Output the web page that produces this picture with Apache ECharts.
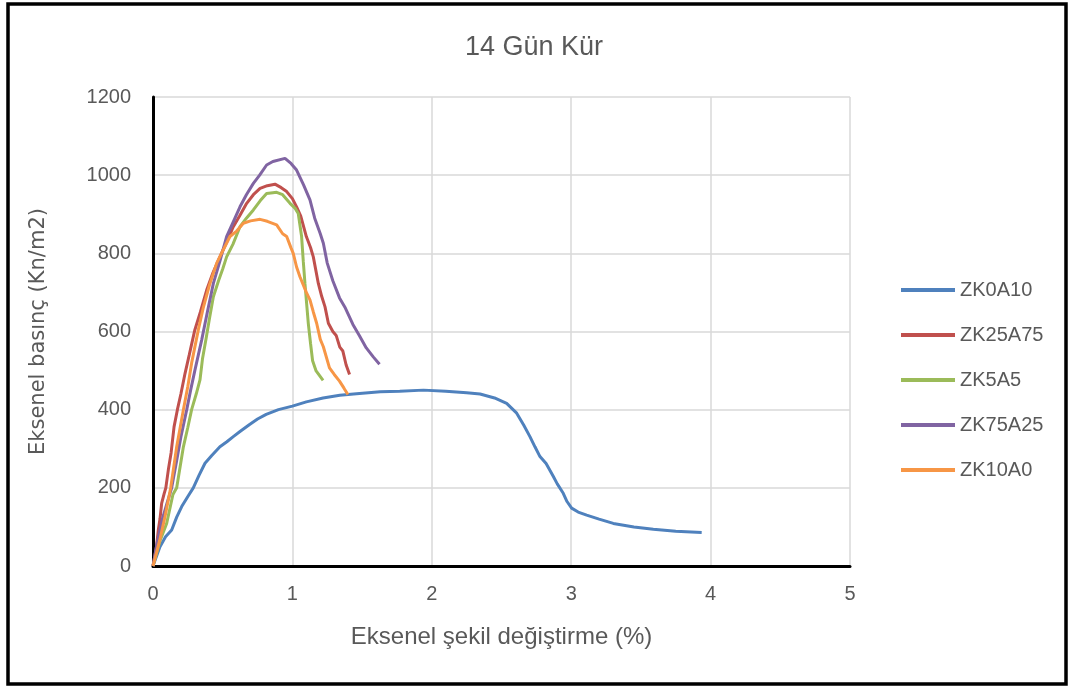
<!DOCTYPE html>
<html>
<head>
<meta charset="utf-8">
<script src="https://cdn.jsdelivr.net/npm/echarts@6/dist/echarts.min.js"></script>
<style>
html,body{margin:0;padding:0;background:#fff;}
#c{width:1068px;height:687px;}
</style>
</head>
<body>
<div id="c"></div>
<script>
const titleText = '14 Gün Kür';
const xAxisName = 'Eksenel şekil değiştirme (%)';
const yAxisName = 'Eksenel basınç (Kn/m2)';
const seriesNames = ['ZK0A10', 'ZK25A75', 'ZK5A5', 'ZK75A25', 'ZK10A0'];

const zk0a10 = [[0,0],[0.02,20],[0.05,49],[0.09,75],[0.134,92],[0.17,125],[0.206,152],[0.25,178],[0.289,200],[0.33,232],[0.373,263],[0.42,282],[0.48,305],[0.53,318],[0.576,331],[0.624,344],[0.693,362],[0.75,376],[0.812,388],[0.9,400],[1.0,409],[1.1,420],[1.22,430],[1.34,437],[1.46,441],[1.63,446],[1.77,447],[1.94,450],[2.1,447],[2.25,443],[2.346,440],[2.45,430],[2.537,416],[2.609,391],[2.66,360],[2.704,331],[2.74,305],[2.776,280],[2.82,262],[2.872,229],[2.9,210],[2.943,186],[2.97,165],[3.003,148],[3.05,138],[3.111,130],[3.2,120],[3.302,109],[3.45,100],[3.589,94],[3.75,89],[3.936,86]];

const zk25a75 = [[0,0],[0.025,49],[0.038,92],[0.05,120],[0.062,160],[0.08,185],[0.092,200],[0.11,246],[0.13,290],[0.151,356],[0.175,400],[0.2,440],[0.23,493],[0.26,540],[0.3,604],[0.34,650],[0.385,706],[0.43,750],[0.48,791],[0.53,830],[0.576,868],[0.62,895],[0.672,928],[0.72,950],[0.768,966],[0.82,973],[0.875,977],[0.92,968],[0.959,958],[1.0,940],[1.03,919],[1.06,895],[1.1,843],[1.13,815],[1.15,791],[1.186,723],[1.21,690],[1.234,663],[1.258,621],[1.29,600],[1.314,590],[1.34,560],[1.362,550],[1.385,515],[1.41,490]];

const zk5a5 = [[0,0],[0.05,64],[0.098,109],[0.143,183],[0.17,200],[0.218,305],[0.25,355],[0.277,400],[0.31,440],[0.337,476],[0.355,530],[0.38,580],[0.406,635],[0.433,689],[0.47,730],[0.5,760],[0.528,791],[0.573,823],[0.624,868],[0.67,890],[0.72,911],[0.77,935],[0.815,953],[0.86,955],[0.887,956],[0.93,950],[0.983,928],[1.02,915],[1.042,902],[1.066,843],[1.078,780],[1.09,723],[1.1,680],[1.114,621],[1.13,570],[1.145,525],[1.17,499],[1.22,475]];

const zk75a25 = [[0,0],[0.03,60],[0.067,120],[0.1,160],[0.134,200],[0.17,270],[0.2,330],[0.242,400],[0.27,450],[0.3,500],[0.349,578],[0.39,650],[0.433,723],[0.48,780],[0.528,843],[0.575,880],[0.624,919],[0.67,950],[0.72,979],[0.765,1000],[0.815,1026],[0.86,1035],[0.947,1043],[0.99,1030],[1.03,1013],[1.08,975],[1.126,937],[1.16,890],[1.2,850],[1.222,826],[1.25,775],[1.29,730],[1.338,686],[1.38,660],[1.434,618],[1.48,590],[1.53,558],[1.58,535],[1.625,516]];

const zk10a0 = [[0,0],[0.047,64],[0.086,126],[0.127,200],[0.17,305],[0.218,400],[0.25,460],[0.277,519],[0.3,560],[0.325,604],[0.36,660],[0.406,720],[0.457,775],[0.5,806],[0.552,843],[0.6,857],[0.648,877],[0.7,883],[0.768,887],[0.82,882],[0.887,873],[0.93,850],[0.959,843],[0.99,814],[1.006,800],[1.03,765],[1.054,740],[1.1,700],[1.126,681],[1.15,650],[1.174,621],[1.2,580],[1.222,561],[1.266,507],[1.3,490],[1.338,473],[1.37,455],[1.398,439]];

const seriesData = [zk0a10, zk25a75, zk5a5, zk75a25, zk10a0];
const colors = ['#4F81BD', '#C0504D', '#9BBB59', '#8064A2', '#F79646'];

const FONT = '"Liberation Sans", Arial, sans-serif';
const chart = echarts.init(document.getElementById('c'), null, {renderer: 'canvas'});
chart.setOption({
  backgroundColor: '#fff',
  animation: false,
  color: colors,
  title: {
    text: titleText,
    left: 'center',
    top: 29,
    textStyle: {fontFamily: FONT, fontSize: 27, fontWeight: 'normal', color: '#595959'}
  },
  graphic: [{
    type: 'rect',
    shape: {x: 8, y: 4, width: 1058, height: 680},
    style: {fill: 'none', stroke: '#000', lineWidth: 3.5},
    silent: true
  }],
  legend: {
    orient: 'vertical',
    left: 896,
    top: 275,
    itemWidth: 54,
    itemHeight: 4,
    itemGap: 25,
    icon: 'rect',
    textStyle: {fontFamily: FONT, fontSize: 20, color: '#595959', lineHeight: 20},
    data: seriesNames
  },
  grid: {left: 153, top: 97, width: 697, height: 469, containLabel: false},
  xAxis: {
    type: 'value',
    min: 0, max: 5, interval: 1,
    name: xAxisName,
    nameLocation: 'middle',
    nameGap: 59,
    nameTextStyle: {fontFamily: FONT, fontSize: 24, color: '#595959'},
    axisLine: {show: true, onZero: false, lineStyle: {color: '#000', width: 3}},
    axisTick: {show: false},
    axisLabel: {fontFamily: FONT, fontSize: 20, color: '#595959', margin: 18},
    splitLine: {show: true, lineStyle: {color: '#D9D9D9', width: 1.5}}
  },
  yAxis: {
    type: 'value',
    min: 0, max: 1200, interval: 200,
    name: yAxisName,
    nameLocation: 'middle',
    nameGap: 104,
    nameTextStyle: {fontFamily: '"DejaVu Sans", sans-serif', fontSize: 21, color: '#595959'},
    axisLine: {show: true, onZero: false, lineStyle: {color: '#000', width: 3}},
    axisTick: {show: false},
    axisLabel: {fontFamily: FONT, fontSize: 20, color: '#595959', margin: 22, formatter: v => String(v)},
    splitLine: {show: true, lineStyle: {color: '#D9D9D9', width: 1.5}}
  },
  series: seriesNames.map((n, i) => ({
    name: n,
    type: 'line',
    data: seriesData[i],
    showSymbol: false,
    symbol: 'none',
    smooth: false,
    lineStyle: {width: 3, color: colors[i]},
    itemStyle: {color: colors[i]}
  }))
});
</script>
</body>
</html>
